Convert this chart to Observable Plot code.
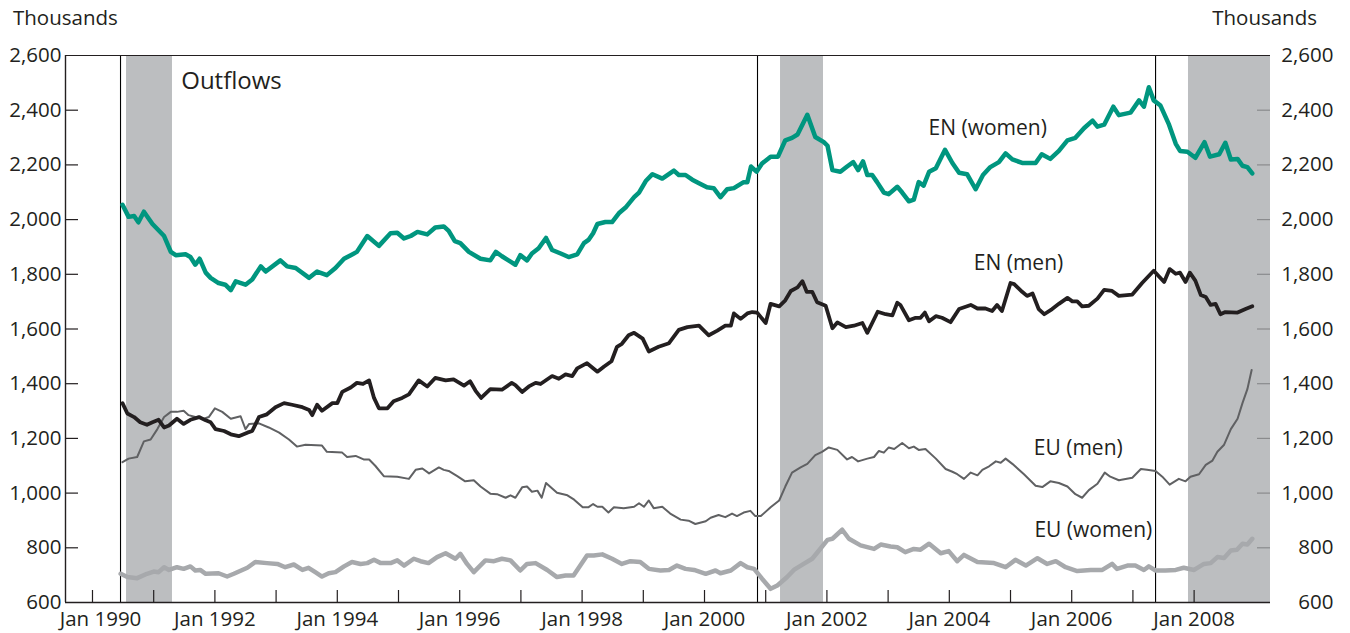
<!DOCTYPE html>
<html><head><meta charset="utf-8">
<script src="https://cdn.jsdelivr.net/npm/d3@7"></script>
<script src="https://cdn.jsdelivr.net/npm/@observablehq/plot@0.6"></script>
<style>
body{margin:0;background:#fff;}
#wrap{position:relative;width:1350px;height:633px;font-family:"Open Sans",sans-serif;color:#231f20;}
.unit{position:absolute;top:4px;font-size:20.5px;line-height:27px;}
</style></head><body><div id="wrap"><div class="unit" style="left:13px">Thousands</div><div class="unit" style="right:33px">Thousands</div></div>
<script>
const enWomen = [[1990.49,2054],[1990.59,2010],[1990.68,2013],[1990.75,1990],[1990.84,2029],[1990.98,1984],[1991.17,1940],[1991.28,1882],[1991.36,1870],[1991.52,1873],[1991.6,1863],[1991.68,1835],[1991.75,1857],[1991.85,1806],[1991.93,1787],[1992.06,1768],[1992.17,1762],[1992.26,1742],[1992.34,1774],[1992.5,1762],[1992.61,1781],[1992.75,1829],[1992.83,1810],[1993.07,1851],[1993.18,1829],[1993.32,1823],[1993.54,1787],[1993.67,1810],[1993.83,1797],[1993.97,1823],[1994.11,1857],[1994.22,1870],[1994.32,1882],[1994.49,1940],[1994.68,1904],[1994.87,1950],[1994.98,1952],[1995.09,1931],[1995.2,1940],[1995.31,1955],[1995.47,1946],[1995.6,1971],[1995.74,1975],[1995.82,1959],[1995.92,1921],[1996.01,1914],[1996.15,1882],[1996.34,1857],[1996.5,1851],[1996.59,1882],[1996.69,1866],[1996.83,1846],[1996.91,1835],[1996.99,1870],[1997.1,1851],[1997.18,1876],[1997.29,1895],[1997.41,1933],[1997.51,1889],[1997.65,1876],[1997.78,1863],[1997.92,1873],[1998.03,1914],[1998.11,1927],[1998.18,1950],[1998.25,1984],[1998.38,1991],[1998.49,1991],[1998.6,2023],[1998.71,2044],[1998.85,2082],[1998.93,2099],[1999.04,2141],[1999.15,2166],[1999.31,2150],[1999.5,2179],[1999.58,2163],[1999.69,2163],[1999.8,2146],[1999.91,2133],[2000.04,2118],[2000.15,2115],[2000.26,2082],[2000.37,2111],[2000.48,2115],[2000.64,2137],[2000.7,2137],[2000.76,2194],[2000.85,2175],[2000.94,2205],[2001.08,2230],[2001.2,2230],[2001.32,2290],[2001.43,2299],[2001.52,2311],[2001.68,2383],[2001.81,2302],[2001.95,2283],[2002.01,2270],[2002.09,2181],[2002.22,2175],[2002.33,2194],[2002.43,2210],[2002.51,2181],[2002.59,2213],[2002.66,2163],[2002.74,2163],[2002.82,2137],[2002.93,2099],[2003.01,2093],[2003.15,2120],[2003.23,2099],[2003.34,2067],[2003.42,2073],[2003.5,2137],[2003.58,2124],[2003.67,2175],[2003.78,2188],[2003.93,2255],[2004.05,2207],[2004.16,2171],[2004.29,2166],[2004.43,2111],[2004.55,2163],[2004.67,2192],[2004.81,2210],[2004.92,2242],[2005.03,2220],[2005.19,2207],[2005.41,2207],[2005.51,2239],[2005.65,2222],[2005.79,2251],[2005.93,2290],[2006.06,2299],[2006.2,2334],[2006.34,2362],[2006.42,2340],[2006.53,2347],[2006.68,2413],[2006.77,2382],[2006.96,2391],[2007.1,2436],[2007.18,2413],[2007.26,2484],[2007.34,2436],[2007.45,2417],[2007.59,2347],[2007.7,2277],[2007.77,2251],[2007.89,2248],[2008.02,2226],[2008.17,2283],[2008.26,2230],[2008.41,2239],[2008.51,2281],[2008.6,2220],[2008.71,2222],[2008.79,2197],[2008.87,2192],[2008.95,2169]];

const enMen = [[1990.49,1329],[1990.57,1291],[1990.68,1278],[1990.78,1259],[1990.89,1250],[1990.98,1259],[1991.08,1268],[1991.17,1240],[1991.25,1247],[1991.38,1272],[1991.49,1253],[1991.6,1268],[1991.74,1278],[1991.85,1266],[1991.93,1259],[1992.01,1234],[1992.15,1227],[1992.26,1215],[1992.39,1208],[1992.53,1221],[1992.61,1227],[1992.72,1278],[1992.85,1288],[1992.99,1314],[1993.13,1329],[1993.26,1323],[1993.43,1314],[1993.54,1304],[1993.59,1285],[1993.67,1323],[1993.75,1301],[1993.92,1329],[1994.0,1329],[1994.08,1370],[1994.22,1386],[1994.32,1403],[1994.42,1399],[1994.52,1412],[1994.6,1348],[1994.68,1310],[1994.82,1310],[1994.92,1336],[1995.06,1348],[1995.17,1361],[1995.33,1412],[1995.47,1390],[1995.6,1421],[1995.77,1412],[1995.9,1416],[1996.07,1393],[1996.17,1409],[1996.26,1374],[1996.35,1348],[1996.5,1380],[1996.69,1378],[1996.85,1403],[1996.91,1395],[1997.02,1370],[1997.13,1390],[1997.24,1403],[1997.32,1399],[1997.51,1428],[1997.62,1418],[1997.73,1434],[1997.84,1428],[1997.92,1456],[1998.08,1475],[1998.25,1444],[1998.36,1463],[1998.48,1482],[1998.57,1535],[1998.65,1546],[1998.76,1577],[1998.85,1586],[1998.99,1565],[1999.09,1518],[1999.25,1535],[1999.42,1548],[1999.58,1597],[1999.72,1607],[1999.91,1612],[2000.07,1577],[2000.21,1594],[2000.34,1612],[2000.43,1612],[2000.48,1657],[2000.59,1637],[2000.7,1657],[2000.78,1662],[2000.86,1660],[2001.0,1622],[2001.08,1692],[2001.22,1683],[2001.32,1705],[2001.41,1739],[2001.52,1752],[2001.6,1775],[2001.67,1736],[2001.76,1736],[2001.84,1698],[2001.98,1685],[2002.09,1603],[2002.17,1624],[2002.31,1607],[2002.44,1612],[2002.58,1622],[2002.66,1586],[2002.74,1622],[2002.83,1663],[2002.96,1654],[2003.07,1650],[2003.15,1696],[2003.2,1688],[2003.34,1632],[2003.45,1641],[2003.53,1641],[2003.6,1660],[2003.67,1628],[2003.78,1647],[2003.88,1641],[2004.02,1625],[2004.16,1673],[2004.35,1688],[2004.46,1675],[2004.59,1675],[2004.7,1666],[2004.78,1688],[2004.86,1666],[2005.0,1768],[2005.06,1764],[2005.19,1736],[2005.27,1721],[2005.36,1730],[2005.46,1673],[2005.55,1654],[2005.68,1673],[2005.79,1692],[2005.93,1714],[2006.01,1701],[2006.09,1701],[2006.17,1683],[2006.28,1685],[2006.42,1711],[2006.53,1743],[2006.66,1739],[2006.77,1721],[2006.99,1726],[2007.15,1768],[2007.34,1813],[2007.51,1772],[2007.6,1819],[2007.7,1802],[2007.77,1806],[2007.86,1772],[2007.93,1806],[2008.02,1777],[2008.11,1724],[2008.19,1717],[2008.27,1688],[2008.35,1692],[2008.43,1654],[2008.51,1662],[2008.71,1660],[2008.84,1673],[2008.95,1683]];

const euMen = [[1990.49,1113],[1990.59,1126],[1990.73,1132],[1990.84,1189],[1990.95,1196],[1991.06,1234],[1991.17,1278],[1991.28,1297],[1991.38,1297],[1991.49,1301],[1991.57,1285],[1991.68,1278],[1991.82,1272],[1991.9,1278],[1992.0,1310],[1992.12,1297],[1992.26,1272],[1992.42,1281],[1992.5,1234],[1992.56,1253],[1992.72,1255],[1992.88,1240],[1993.05,1221],[1993.21,1196],[1993.34,1170],[1993.48,1177],[1993.75,1174],[1993.83,1151],[1994.08,1148],[1994.16,1132],[1994.3,1136],[1994.43,1123],[1994.52,1123],[1994.62,1100],[1994.76,1062],[1994.98,1060],[1995.17,1052],[1995.28,1085],[1995.39,1090],[1995.5,1072],[1995.66,1094],[1995.74,1085],[1995.82,1081],[1995.96,1062],[1996.09,1043],[1996.23,1047],[1996.34,1024],[1996.5,998],[1996.61,996],[1996.75,983],[1996.83,992],[1996.91,983],[1997.02,1021],[1997.1,1024],[1997.18,1005],[1997.27,1009],[1997.34,983],[1997.41,1037],[1997.59,1001],[1997.76,992],[1997.87,976],[1998.01,948],[1998.1,948],[1998.18,960],[1998.25,950],[1998.33,950],[1998.43,929],[1998.52,948],[1998.68,945],[1998.85,950],[1998.93,963],[1999.01,950],[1999.09,973],[1999.17,945],[1999.31,950],[1999.44,925],[1999.61,903],[1999.74,899],[1999.85,887],[2000.02,897],[2000.1,910],[2000.23,920],[2000.34,912],[2000.45,925],[2000.53,916],[2000.64,929],[2000.75,935],[2000.83,916],[2000.92,916],[2001.08,948],[2001.22,973],[2001.32,1024],[2001.43,1075],[2001.57,1094],[2001.68,1107],[2001.81,1139],[2001.92,1151],[2002.03,1167],[2002.17,1158],[2002.33,1123],[2002.41,1132],[2002.51,1116],[2002.66,1126],[2002.77,1132],[2002.85,1154],[2002.93,1148],[2003.01,1167],[2003.1,1161],[2003.23,1183],[2003.34,1164],[2003.42,1170],[2003.5,1158],[2003.61,1161],[2003.78,1126],[2003.94,1088],[2004.05,1078],[2004.13,1069],[2004.24,1052],[2004.35,1075],[2004.46,1065],[2004.54,1085],[2004.65,1098],[2004.76,1116],[2004.84,1111],[2004.92,1126],[2005.03,1107],[2005.22,1069],[2005.41,1027],[2005.52,1022],[2005.65,1043],[2005.79,1037],[2005.93,1024],[2006.06,996],[2006.17,983],[2006.28,1011],[2006.42,1034],[2006.54,1075],[2006.63,1060],[2006.77,1047],[2006.99,1056],[2007.13,1088],[2007.23,1085],[2007.37,1081],[2007.48,1060],[2007.6,1031],[2007.75,1052],[2007.86,1043],[2007.94,1060],[2008.08,1069],[2008.19,1103],[2008.3,1119],[2008.38,1151],[2008.49,1177],[2008.6,1234],[2008.71,1272],[2008.79,1329],[2008.87,1380],[2008.94,1450]];

const euWomen = [[1990.46,705],[1990.57,693],[1990.73,689],[1990.89,705],[1991.0,713],[1991.08,711],[1991.17,729],[1991.25,719],[1991.38,729],[1991.49,723],[1991.6,732],[1991.68,717],[1991.76,719],[1991.85,705],[1992.06,707],[1992.2,695],[1992.31,705],[1992.53,727],[1992.66,748],[1992.85,744],[1993.02,741],[1993.15,729],[1993.29,739],[1993.43,719],[1993.53,727],[1993.64,711],[1993.75,695],[1993.86,707],[1993.97,711],[1994.11,732],[1994.24,748],[1994.38,741],[1994.49,744],[1994.6,756],[1994.71,744],[1994.87,744],[1994.98,754],[1995.09,735],[1995.25,760],[1995.36,751],[1995.49,744],[1995.63,766],[1995.77,780],[1995.93,760],[1996.01,778],[1996.12,741],[1996.23,711],[1996.42,754],[1996.56,751],[1996.69,760],[1996.83,754],[1996.99,717],[1997.1,741],[1997.24,744],[1997.43,719],[1997.59,693],[1997.73,699],[1997.86,699],[1998.08,772],[1998.19,772],[1998.33,776],[1998.49,760],[1998.65,741],[1998.79,751],[1998.95,748],[1999.09,723],[1999.28,717],[1999.42,719],[1999.55,735],[1999.69,723],[1999.83,719],[2000.02,705],[2000.18,717],[2000.26,707],[2000.43,717],[2000.59,744],[2000.7,729],[2000.81,723],[2000.94,687],[2001.08,650],[2001.19,662],[2001.35,693],[2001.46,719],[2001.62,741],[2001.76,760],[2001.87,790],[2002.01,829],[2002.09,833],[2002.25,866],[2002.36,833],[2002.55,809],[2002.77,796],[2002.88,812],[2003.04,805],[2003.15,802],[2003.28,784],[2003.42,796],[2003.53,793],[2003.67,815],[2003.86,780],[2003.99,788],[2004.13,751],[2004.24,774],[2004.46,748],[2004.73,744],[2004.92,729],[2005.08,756],[2005.25,735],[2005.44,762],[2005.6,741],[2005.74,751],[2005.9,729],[2006.09,715],[2006.31,719],[2006.5,719],[2006.66,741],[2006.74,723],[2006.91,735],[2007.04,735],[2007.18,719],[2007.26,732],[2007.37,717],[2007.53,717],[2007.7,719],[2007.83,727],[2008.0,719],[2008.16,741],[2008.27,744],[2008.38,766],[2008.49,763],[2008.6,790],[2008.7,793],[2008.79,815],[2008.87,812],[2008.95,833]];

const recessions = [[1990.556, 1991.307], [2001.242, 2001.944], [2007.908, 2009.25]];
const markerDates = [1990.458, 2000.866, 2007.37];
const yTicks = [600, 800, 1000, 1200, 1400, 1600, 1800, 2000, 2200, 2400, 2600];
const yInnerTicks = [800, 1000, 1200, 1400, 1600, 1800, 2000, 2200, 2400];
const xTicks = d3.range(1990, 2009);
const xFirstLabel = [1990];
const xLabelYears = d3.range(1992, 2009, 2);

const xDomain = [1989.559, 2009.248];
const yDomain = [600, 2600];
const ink = "#231f20";
const fs = 20.5;
const P = d => d[0], V = d => d[1];
const janFmt = d => "Jan " + d;

const chart = Plot.plot({
  width: 1350, height: 633,
  marginLeft: 65, marginRight: 80, marginTop: 55, marginBottom: 31,
  style: {fontFamily: '"Open Sans", sans-serif', color: ink, background: "#fff"},
  x: {domain: xDomain, axis: null},
  y: {domain: yDomain, axis: null},
  marks: [
    Plot.rectX(recessions, {x1: d => d[0], x2: d => Math.min(d[1], xDomain[1]), fill: "#bcbec0"}),
    Plot.ruleX(markerDates, {stroke: "#000", strokeWidth: 1.1}),
    Plot.tickY(yInnerTicks, {y: d => d, insetRight: 1205 - 13, stroke: ink, strokeWidth: 1.2}),
    Plot.tickY(yInnerTicks, {y: d => d, insetLeft: 1205 - 13, stroke: "#8a8b8d", strokeWidth: 1.2}),
    Plot.tickX(xTicks, {x: d => d, insetTop: 547 - 12, stroke: ink, strokeWidth: 1.2}),
    Plot.ruleY([yDomain[0]], {stroke: ink, strokeWidth: 1.4}),
    Plot.ruleY([yDomain[1]], {stroke: ink, strokeWidth: 1.2}),
    Plot.ruleX([xDomain[0]], {stroke: ink, strokeWidth: 1.4}),
    Plot.axisY({anchor: "left", ticks: yTicks, tickSize: 0, tickPadding: 4, tickFormat: d3.format(","), fontSize: fs, fill: ink}),
    Plot.axisY({anchor: "right", ticks: yTicks, tickSize: 0, tickPadding: 63, textAnchor: "end", tickFormat: d3.format(","), fontSize: fs, fill: ink}),
    Plot.axisX({anchor: "bottom", ticks: xLabelYears, tickSize: 0, tickPadding: 9, tickFormat: janFmt, fontSize: fs, fill: ink}),
    Plot.axisX({anchor: "bottom", ticks: xFirstLabel, tickSize: 0, tickPadding: 9, dx: 8, tickFormat: janFmt, fontSize: fs, fill: ink}),
    Plot.line(euWomen, {x: P, y: V, stroke: "#a7a9ac", strokeWidth: 4.5, strokeLinejoin: "round"}),
    Plot.line(euMen, {x: P, y: V, stroke: "#606163", strokeWidth: 2, strokeLinejoin: "round"}),
    Plot.line(enMen, {x: P, y: V, stroke: "#231f20", strokeWidth: 3.8, strokeLinejoin: "round"}),
    Plot.line(enWomen, {x: P, y: V, stroke: "#00967f", strokeWidth: 4.5, strokeLinejoin: "round"}),
    Plot.text(["Outflows"], {x: 1991.45, y: 2506, text: d => d, textAnchor: "start", fontSize: 24, fill: ink}),
    Plot.text(["EN (women)"], {x: 2003.66, y: 2334, text: d => d, textAnchor: "start", fontSize: 21, fill: ink}),
    Plot.text(["EN (men)"], {x: 2004.40, y: 1840, text: d => d, textAnchor: "start", fontSize: 21, fill: ink}),
    Plot.text(["EU (men)"], {x: 2005.38, y: 1163, text: d => d, textAnchor: "start", fontSize: 21, fill: ink}),
    Plot.text(["EU (women)"], {x: 2005.39, y: 863, text: d => d, textAnchor: "start", fontSize: 21, fill: ink})
  ]
});
document.getElementById("wrap").appendChild(chart);
</script>
</body></html>
